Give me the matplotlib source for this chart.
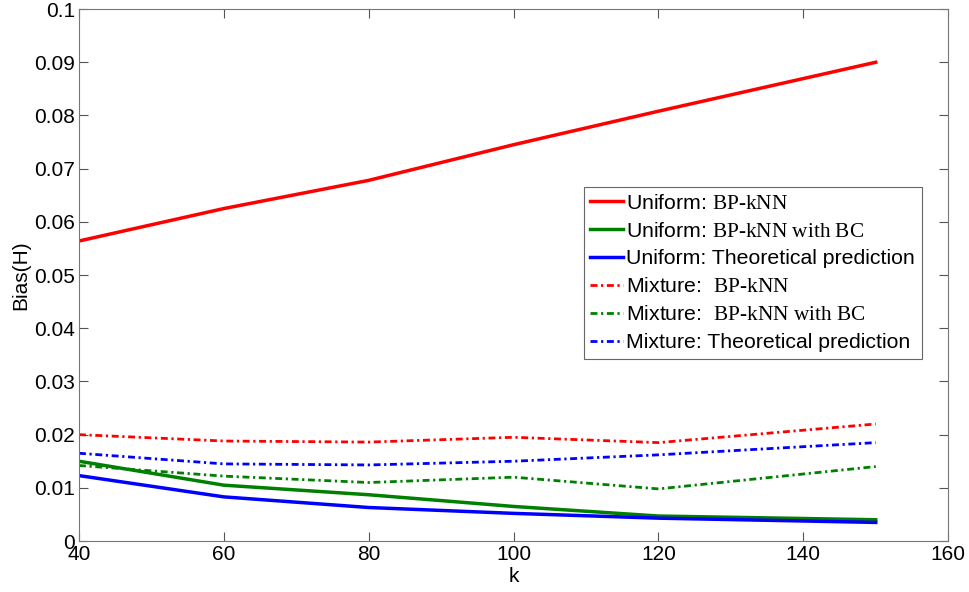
import numpy as np
import matplotlib.pyplot as plt

plt.switch_backend("Agg")
plt.rcParams["font.family"] = ["Liberation Sans", "DejaVu Sans"]
plt.rcParams["mathtext.fontset"] = "custom"
plt.rcParams["mathtext.rm"] = "Liberation Serif"

# data
k = [40, 60, 80, 100, 120, 150]
uni_bp = [0.0564, 0.0625, 0.0678, 0.0745, 0.0808, 0.0900]
uni_bc = [0.0150, 0.0105, 0.0087, 0.0065, 0.0047, 0.0040]
uni_th = [0.0123, 0.0083, 0.0063, 0.0052, 0.0043, 0.0035]
mix_bp = [0.0200, 0.0188, 0.0186, 0.0195, 0.0185, 0.0220]
mix_bc = [0.0142, 0.0122, 0.0110, 0.0120, 0.0098, 0.0140]
mix_th = [0.0165, 0.0145, 0.0143, 0.0150, 0.0162, 0.0185]

labels = [
    r"Uniform: $\text{BP-kNN}$",
    r"Uniform: $\text{BP-kNN with BC}$",
    "Uniform: Theoretical prediction",
    r"Mixture:  $\text{BP-kNN}$",
    r"Mixture:  $\text{BP-kNN with BC}$",
    "Mixture: Theoretical prediction",
]

fig = plt.figure(figsize=(9.69, 5.92), dpi=100)
ax = fig.add_axes([0.0815, 0.0861, 0.897, 0.8986])

dd = (0, (2.5, 1.3, 0.8, 1.3))
ax.plot(k, uni_bp, color="#ff0000", lw=2.5, label=labels[0])
ax.plot(k, uni_bc, color="#008000", lw=2.5, label=labels[1])
ax.plot(k, uni_th, color="#0000ff", lw=2.5, label=labels[2])
ax.plot(k, mix_bp, color="#ff0000", lw=2.0, ls=dd, label=labels[3])
ax.plot(k, mix_bc, color="#008000", lw=2.0, ls=dd, label=labels[4])
ax.plot(k, mix_th, color="#0000ff", lw=2.0, ls=dd, label=labels[5])

ax.set_xlim(40, 160)
ax.set_ylim(0, 0.1)
ax.set_xticks(np.arange(40, 161, 20))
ax.set_yticks(np.arange(0, 0.101, 0.01))
ax.set_yticklabels(["0"] + ["%.2f" % v for v in np.arange(0.01, 0.095, 0.01)] + ["0.1"])
ax.tick_params(direction="in", top=True, right=True, labelsize=15,
               length=6.5, color="#555555", pad=3)
for s in ax.spines.values():
    s.set_color("#777777")

ax.set_xlabel("k", fontsize=15, labelpad=2)
ax.set_ylabel("Bias(H)", fontsize=15, labelpad=3)

leg = ax.legend(loc="upper left", bbox_to_anchor=(0.581, 0.665), fontsize=15.3,
                handlelength=1.55, handletextpad=0.15, labelspacing=0.42,
                borderpad=0.3, borderaxespad=0, fancybox=False, framealpha=1)
leg.get_frame().set_edgecolor("#666666")
leg.get_frame().set_linewidth(0.8)

fig.savefig("out.png", dpi=100)
